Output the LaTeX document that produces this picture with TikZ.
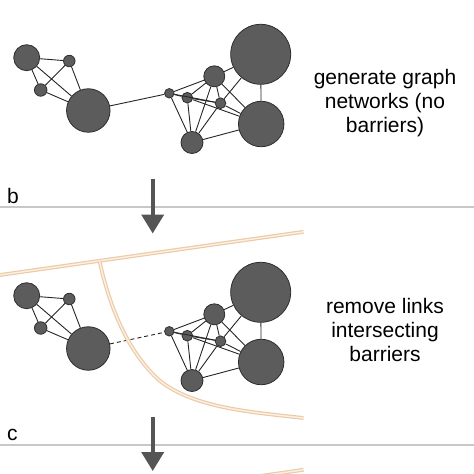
\documentclass[tikz,border=0pt]{standalone}
\usepackage{fontspec}
\setmainfont{Liberation Sans}
\usetikzlibrary{arrows.meta}
\definecolor{nodegray}{RGB}{92,92,92}
\definecolor{rimgray}{RGB}{45,45,45}
\definecolor{rulegray}{RGB}{200,200,200}
\definecolor{arrowgray}{RGB}{85,85,85}
\definecolor{barriertan}{RGB}{236,202,168}
\definecolor{barriercream}{RGB}{250,240,228}
\tikzset{
  vertex/.style={circle,fill=nodegray,draw=rimgray,line width=0.8pt,inner sep=0pt,minimum size=#1},
  link/.style={line width=0.9pt,draw=black!85},
  barrier/.style={draw=barriertan,line width=1.2pt,double=barriercream,double distance=1.4pt},
  steparrow/.style={draw=arrowgray,line width=4pt,-{Triangle[width=22pt,length=19pt]}},
  caption/.style={font=\fontsize{21}{24}\selectfont,align=center},
  panellabel/.style={font=\fontsize{21}{24}\selectfont,anchor=base west,inner sep=0pt}
}
\begin{document}
\begin{tikzpicture}[x=1pt,y=-1pt]
  \useasboundingbox (0,0) rectangle (474,474);
  \clip (0,0) rectangle (474,474);
  % two copies of the network
  \foreach \p/\dy in {top/0,mid/238}{
    \begin{scope}[yshift=-\dy pt,name prefix=\p-]
      \node[vertex=26pt]   (A) at (26.7,57.7) {};
      \node[vertex=11.5pt] (B) at (69.3,61) {};
      \node[vertex=12.5pt] (C) at (40.7,90) {};
      \node[vertex=43.5pt] (D) at (88.3,110.5) {};
      \node[vertex=9.5pt]  (E) at (169.3,93.3) {};
      \node[vertex=10.7pt] (F) at (187.3,97.7) {};
      \node[vertex=21pt]   (G) at (214.3,76.3) {};
      \node[vertex=60pt]   (H) at (260.7,54.3) {};
      \node[vertex=10.7pt] (I) at (220.5,103.2) {};
      \node[vertex=45.5pt] (J) at (261.2,124) {};
      \node[vertex=22pt]   (K) at (192,142.5) {};
      \foreach \u/\v in {A/B,A/C,A/D,B/C,B/D,C/D,
                         E/G,E/F,E/I,E/K,F/G,F/I,F/J,F/K,G/K,G/I,G/J,G/H,
                         I/K,I/J,I/H,K/J,H/J}
        \draw[link] (\u) -- (\v);
    \end{scope}
  }
  \draw[link] (top-D) -- (top-E);
  \draw[link,dash pattern=on 4pt off 3pt] (mid-D) -- (mid-E);
  % captions
  \node[caption] (cap1) at (385,103.5) {generate graph\\networks (no\\barriers)};
  \node[caption] (cap2) at (385,329.5) {remove links\\intersecting\\barriers};
  % panel rules and arrows
  \draw[rulegray,line width=2pt] (0,207.3) -- (474,207.3);
  \draw[rulegray,line width=2pt] (0,445) -- (474,445);
  \node[panellabel] (lblb) at (7,203.3) {b};
  \node[panellabel] (lblc) at (7,440) {c};
  \coordinate (arr1s) at (152.7,179.3);
  \coordinate (arr1e) at (152.7,233.5);
  \coordinate (arr2s) at (152.7,416.7);
  \coordinate (arr2e) at (152.7,471);
  \draw[steparrow] (arr1s) -- (arr1e);
  \draw[steparrow] (arr2s) -- (arr2e);
  % barriers
  \draw[barrier] (0,275) -- (303.5,231.8);
  \draw[barrier] (99.5,261) .. controls (108,300) and (125,350) .. (160,381)
                 .. controls (195,408) and (250,412) .. (303.5,418);
  \draw[barrier] (0,513) -- (303.5,469.8);
\end{tikzpicture}
\end{document}
